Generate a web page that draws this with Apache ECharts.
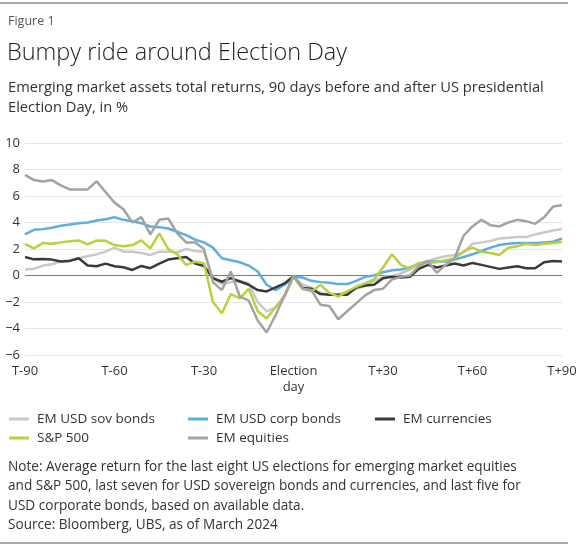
<!DOCTYPE html>
<html>
<head>
<meta charset="utf-8">
<script src="https://cdn.jsdelivr.net/npm/echarts@6/dist/echarts.min.js"></script>
<style>
html,body{margin:0;padding:0;background:#fff;}
#c{width:580px;height:545px;}
</style>
</head>
<body>
<div id="c"></div>
<script>
const days = [-90,-87,-84,-81,-78,-75,-72,-69,-66,-63,-60,-57,-54,-51,-48,-45,-42,-39,-36,-33,-30,-27,-24,-21,-18,-15,-12,-9,-6,-3,0,3,6,9,12,15,18,21,24,27,30,33,36,39,42,45,48,51,54,57,60,63,66,69,72,75,78,81,84,87,90];
const xTickLabels = ['T-90','T-60','T-30','Election\nday','T+30','T+60','T+90'];
const seriesNames = ['EM USD sov bonds','EM USD corp bonds','EM currencies','S&P 500','EM equities'];

const sovBonds = [0.45,0.5,0.75,0.85,1.05,1.15,1.3,1.45,1.6,1.8,2.1,1.8,1.8,1.7,1.55,1.8,1.8,1.75,2.0,1.85,1.8,-0.2,-0.65,-0.5,-0.4,-0.6,-2.0,-2.7,-2.4,-1.5,-0.1,
  -0.7,-0.9,-1.3,-1.45,-1.45,-1.25,-1.0,-0.8,-0.4,-0.1,-0.05,0.15,0.45,0.85,1.1,1.3,1.45,1.55,1.75,2.4,2.5,2.6,2.8,2.85,2.9,2.9,3.1,3.25,3.4,3.5];
const corpBonds = [3.1,3.45,3.5,3.6,3.75,3.85,3.95,4.0,4.15,4.25,4.4,4.2,4.1,3.95,3.7,3.65,3.55,3.3,3.05,2.7,2.5,2.1,1.3,1.15,1.0,0.75,0.3,-0.7,-1.1,-0.7,-0.1,
  -0.15,-0.4,-0.5,-0.55,-0.65,-0.65,-0.4,-0.1,0.0,0.25,0.4,0.45,0.6,0.9,1.05,1.05,1.05,1.2,1.4,1.6,1.85,2.1,2.3,2.4,2.45,2.45,2.45,2.5,2.55,2.8];
const currencies = [1.4,1.22,1.25,1.2,1.05,1.1,1.3,0.75,0.7,0.9,0.7,0.62,0.42,0.72,0.55,0.9,1.2,1.3,1.4,0.9,0.72,-0.2,-0.47,-0.2,-0.45,-0.7,-1.1,-1.2,-0.9,-0.6,-0.05,
  -0.95,-1.0,-1.4,-1.45,-1.45,-1.45,-0.9,-0.75,-0.7,-0.2,-0.1,-0.15,-0.1,0.5,0.8,0.6,0.75,0.9,0.75,0.95,0.8,0.65,0.5,0.6,0.7,0.55,0.55,1.0,1.1,1.05];
const sp500 = [2.38,2.05,2.45,2.4,2.5,2.58,2.65,2.35,2.65,2.62,2.3,2.2,2.3,2.65,2.05,3.18,2.0,1.6,0.8,1.04,0.92,-2.0,-2.85,-1.4,-1.72,-1.0,-2.7,-3.25,-2.4,-1.6,-0.1,
  -1.0,-1.2,-0.72,-1.3,-1.6,-1.2,-0.85,-0.6,-0.3,0.6,1.6,0.8,0.5,0.95,0.95,1.0,1.15,1.3,1.8,2.1,1.8,1.7,1.55,2.1,2.2,2.4,2.3,2.4,2.45,2.55];
const equities = [7.6,7.2,7.1,7.2,6.8,6.5,6.5,6.5,7.1,6.3,5.5,5.0,4.0,4.4,3.1,4.2,4.3,3.2,2.5,2.5,2.0,-0.5,-1.1,0.3,-1.6,-1.9,-3.4,-4.3,-3.0,-1.5,0.0,
  -1.0,-1.1,-2.2,-2.3,-3.3,-2.7,-2.1,-1.5,-1.1,-1.0,-0.3,-0.1,0.0,0.7,1.1,0.2,0.8,1.3,3.0,3.7,4.2,3.8,3.7,4.0,4.2,4.1,3.9,4.4,5.2,5.3];

const allValues = [sovBonds, corpBonds, currencies, sp500, equities];
const colors = ['#c9c9c9','#5eaee0','#3a3a3a','#bccf3c','#a3a3a3'];
const FONT = '"Open Sans", "Noto Sans", sans-serif';

function pairs(vals){ return days.map((d,i)=>[d, vals[i]]); }

const series = seriesNames.map((name, k) => {
  const s = {
    name: name,
    type: 'line',
    data: pairs(allValues[k]),
    showSymbol: false,
    symbol: 'none',
    lineStyle: {width: 2.5, color: colors[k]},
    itemStyle: {color: colors[k]},
    z: 3 + k,
    animation: false
  };
  if (k === 0) {
    s.markLine = {
      silent: true, symbol: 'none', label: {show: false},
      lineStyle: {color: '#7a7a7a', width: 1, type: 'solid'},
      data: [{yAxis: 0}], z: 1, animation: false
    };
  }
  return s;
});

const legendPos = [[4,407],[183,407],[370,407],[4,426],[183,426]];
const legends = seriesNames.map((name,k)=>({
  data: [name], left: legendPos[k][0], top: legendPos[k][1],
  icon: 'rect', itemWidth: 20, itemHeight: 3, selectedMode: false,
  textStyle: {fontSize: 13.5, color: '#333', fontFamily: FONT, padding: [0,0,0,3]}
}));

const noteLines = [
  'Note: Average return for the last eight US elections for emerging market equities',
  'and S&P 500, last seven for USD sovereign bonds and currencies, and last five for',
  'USD corporate bonds, based on available data.',
  'Source: Bloomberg, UBS, as of March 2024'
];
const subtitleLines = [
  'Emerging market assets total returns, 90 days before and after US presidential',
  'Election Day, in %'
];

function txt(x, y, text, size, color, weight){
  return {type: 'text', left: x, top: y, silent: true,
    style: {text: text, fontSize: size, fontFamily: FONT, fill: color, fontWeight: weight || 'normal'}};
}

const graphics = [
  {type: 'rect', shape: {x: 0, y: 2, width: 568, height: 2}, style: {fill: '#a8a8a8'}, silent: true},
  {type: 'rect', shape: {x: 0, y: 542, width: 568, height: 2}, style: {fill: '#a8a8a8'}, silent: true},
  txt(8, 15, 'Figure 1', 12.5, '#555'),
  txt(7, 41, 'Bumpy ride around Election Day', 23.5, '#222', 300)
];
subtitleLines.forEach((t,i)=>graphics.push(txt(8, 80 + i*20, t, 14.7, '#333')));
noteLines.forEach((t,i)=>graphics.push(txt(8, 460 + i*19.5, t, 13.6, '#333')));

const chart = echarts.init(document.getElementById('c'), null, {renderer: 'canvas'});
chart.setOption({
  animation: false,
  backgroundColor: '#fff',
  color: colors,
  grid: {left: 25, top: 143, width: 537, height: 212, containLabel: false},
  legend: legends,
  xAxis: {
    type: 'value', min: -90, max: 90, interval: 30,
    axisLine: {show: false}, axisTick: {show: false}, splitLine: {show: false},
    axisLabel: {
      color: '#333', fontSize: 13, fontFamily: FONT, margin: 8, lineHeight: 16,
      formatter: v => xTickLabels[Math.round((v + 90) / 30)]
    }
  },
  yAxis: {
    type: 'value', min: -6, max: 10, interval: 2,
    axisLine: {show: false}, axisTick: {show: false},
    splitLine: {lineStyle: {color: '#e6e6e6', width: 1}},
    axisLabel: {
      color: '#333', fontSize: 13, fontFamily: FONT, margin: 5,
      formatter: v => (v < 0 ? '\u2212' + Math.abs(v) : String(v))
    }
  },
  graphic: graphics,
  series: series
});
</script>
</body>
</html>
